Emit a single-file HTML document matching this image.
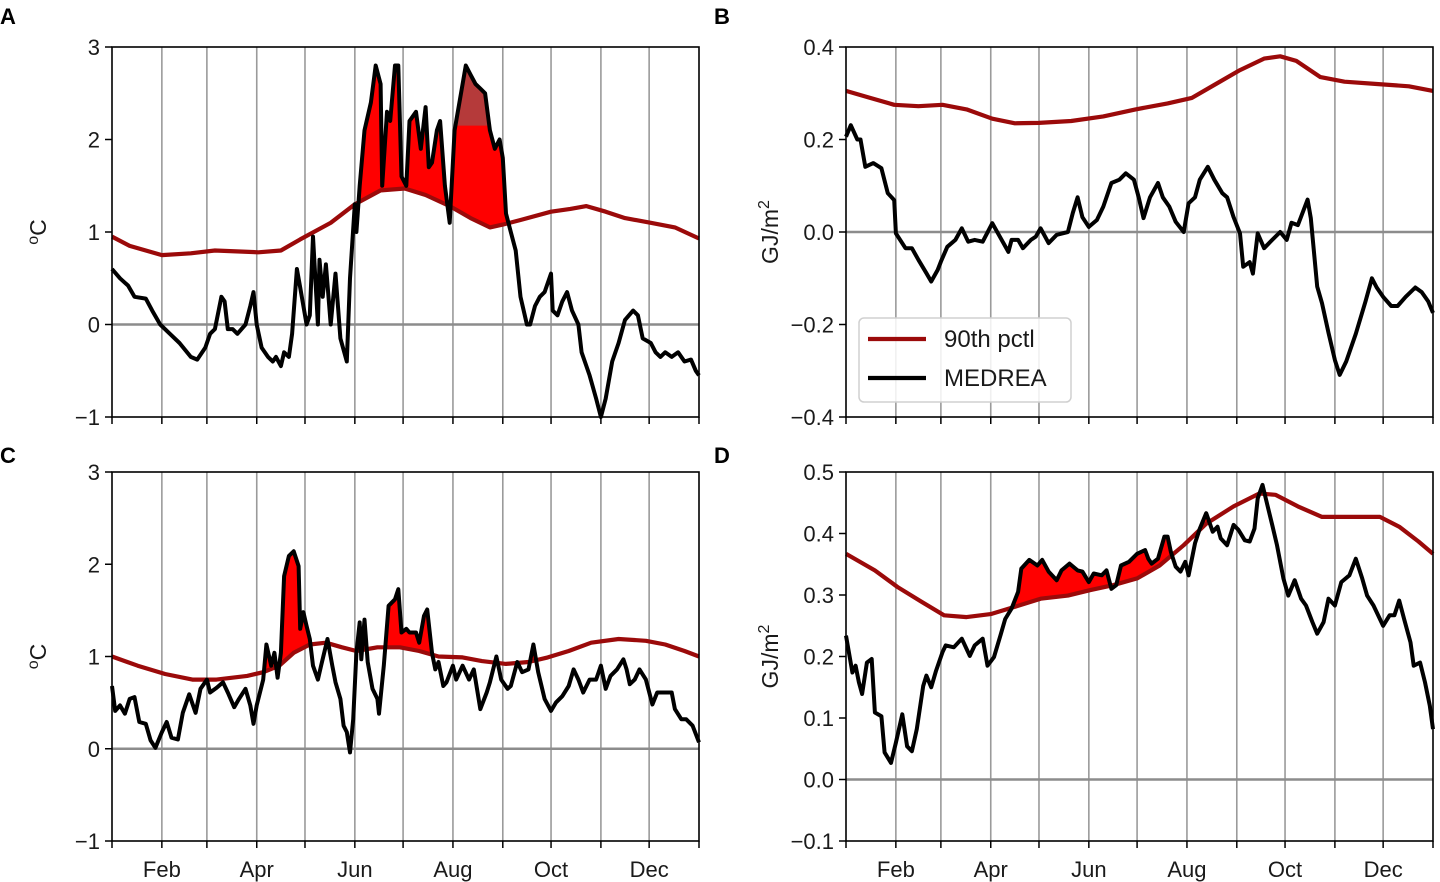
<!DOCTYPE html>
<html><head><meta charset="utf-8">
<style>
html,body{margin:0;padding:0;background:#fff;}
svg{display:block;font-family:"Liberation Sans","DejaVu Sans",sans-serif;}
</style></head>
<body>
<svg id="fig" width="1440" height="882" viewBox="0 0 1440 882"></svg>
<script>
const monthStarts = [0,31,59,90,120,151,181,212,243,273,304,334,365];
const monthLabels = ["Feb","Apr","Jun","Aug","Oct","Dec"];
const monthLabelDays = [31,90,151,212,273,334];

const aDays = [0,5,10,14,21,25,30,36,42,49,53,58,61,64,68,70,72,75,78,83,86,88,90,93,97,100,102,105,107,110,112,115,117,118,121,123,125,128,129,131,133,136,139,142,146,148,151,152,154,157,161,164,167,168,171,173,176,178,180,183,185,189,192,195,197,199,202,204,207,210,213,217,220,223,226,229,232,235,238,241,243,245,248,251,254,258,260,263,266,269,273,274,277,280,283,286,290,292,295,297,301,304,307,311,315,319,324,327,330,335,338,341,344,348,352,356,360,363,365];
const aVals = [0.6,0.5,0.42,0.3,0.28,0.15,0.0,-0.1,-0.2,-0.35,-0.38,-0.25,-0.1,-0.05,0.3,0.25,-0.05,-0.05,-0.1,0.0,0.2,0.35,0.0,-0.25,-0.35,-0.4,-0.35,-0.45,-0.3,-0.35,-0.1,0.6,0.4,0.3,0.0,0.1,0.95,0.0,0.7,0.3,0.65,0.0,0.55,-0.15,-0.4,0.5,1.3,1.0,1.5,2.1,2.4,2.8,2.6,1.5,2.3,2.2,2.8,2.8,1.6,1.5,2.2,2.3,1.9,2.35,1.7,1.75,2.1,2.2,1.5,1.1,2.1,2.5,2.8,2.7,2.6,2.55,2.5,2.1,1.9,2.0,1.8,1.2,1.0,0.8,0.3,0.0,0.0,0.2,0.3,0.35,0.55,0.15,0.1,0.25,0.35,0.15,0.0,-0.3,-0.45,-0.55,-0.8,-1.0,-0.8,-0.4,-0.2,0.05,0.15,0.1,-0.15,-0.2,-0.3,-0.35,-0.3,-0.35,-0.3,-0.4,-0.38,-0.5,-0.55];
const aPctDays = [0,11,31,49,64,91,105,117,136,151,167,182,195,210,223,235,243,254,273,285,295,307,319,335,350,365];
const aPctVals = [0.95,0.85,0.75,0.77,0.8,0.78,0.8,0.92,1.1,1.3,1.45,1.47,1.4,1.28,1.15,1.05,1.08,1.13,1.22,1.25,1.28,1.22,1.15,1.1,1.05,0.93];

const bDays = [0,3,7,9,12,17,22,26,30,31,37,41,45,50,53,57,59,63,68,72,76,80,85,91,95,101,103,107,110,115,118,121,126,131,138,141,144,147,151,156,160,165,170,174,179,182,185,189,194,197,201,205,210,213,217,220,225,229,234,237,241,245,247,251,253,256,260,265,270,274,277,281,287,289,293,296,300,304,307,311,317,323,327,330,334,339,343,348,354,358,362,365];
const bVals = [0.206,0.231,0.2,0.2,0.141,0.149,0.138,0.084,0.069,-0.003,-0.035,-0.035,-0.06,-0.089,-0.107,-0.082,-0.064,-0.032,-0.017,0.008,-0.021,-0.017,-0.021,0.019,-0.006,-0.043,-0.017,-0.017,-0.035,-0.017,-0.01,0.008,-0.024,-0.006,0.0,0.041,0.075,0.032,0.011,0.026,0.055,0.106,0.113,0.127,0.113,0.075,0.03,0.075,0.106,0.075,0.055,0.022,0.0,0.062,0.075,0.113,0.141,0.113,0.084,0.075,0.032,-0.003,-0.075,-0.065,-0.09,-0.003,-0.035,-0.017,0.0,-0.017,0.02,0.015,0.07,0.03,-0.118,-0.154,-0.218,-0.277,-0.309,-0.28,-0.22,-0.15,-0.1,-0.12,-0.14,-0.16,-0.16,-0.14,-0.12,-0.13,-0.15,-0.175];
const bPctDays = [0,15,30,45,60,75,91,105,120,140,160,180,200,215,230,245,260,270,280,295,310,330,350,365];
const bPctVals = [0.305,0.29,0.275,0.272,0.275,0.265,0.245,0.235,0.236,0.24,0.25,0.265,0.278,0.29,0.32,0.35,0.375,0.38,0.37,0.335,0.325,0.32,0.315,0.305];

const cDays = [0,2,5,8,11,14,17,21,24,27,31,34,37,41,44,48,52,55,59,61,65,69,72,76,79,83,86,88,90,94,96,99,101,103,105,107,110,113,116,117,119,121,123,125,128,130,134,137,139,142,144,146,148,150,152,154,155,157,159,162,165,166,169,172,176,178,180,183,185,189,191,194,196,199,201,203,206,208,212,214,218,222,225,229,233,235,239,242,246,248,252,255,259,262,265,269,273,276,280,284,287,290,293,297,301,304,307,310,314,318,320,322,325,328,332,336,339,344,348,350,354,357,361,365];
const cVals = [0.68,0.41,0.47,0.38,0.54,0.56,0.29,0.27,0.09,0.01,0.18,0.29,0.12,0.1,0.39,0.59,0.39,0.65,0.75,0.61,0.66,0.72,0.61,0.45,0.54,0.65,0.47,0.27,0.47,0.75,1.13,0.9,1.04,0.77,1.04,1.87,2.09,2.14,1.98,1.3,1.48,1.33,1.19,0.9,0.75,0.9,1.19,0.9,0.72,0.54,0.25,0.18,-0.04,0.32,1.04,1.37,0.97,1.4,0.94,0.65,0.54,0.38,0.9,1.55,1.62,1.73,1.26,1.3,1.26,1.26,1.15,1.44,1.51,1.04,0.86,0.94,0.68,0.72,0.9,0.75,0.9,0.75,0.86,0.43,0.61,0.72,1.0,0.75,0.65,0.68,0.94,0.83,0.86,1.13,0.83,0.54,0.41,0.5,0.57,0.68,0.86,0.75,0.61,0.75,0.75,0.9,0.65,0.79,0.86,0.97,0.86,0.7,0.75,0.86,0.75,0.48,0.61,0.61,0.61,0.43,0.32,0.32,0.25,0.07];
const cPctDays = [0,16,33,50,65,84,94,104,113,123,133,143,152,165,179,191,203,218,230,245,259,271,284,298,315,332,344,356,365];
const cPctVals = [1.0,0.9,0.81,0.75,0.75,0.79,0.83,0.9,1.04,1.13,1.15,1.1,1.06,1.1,1.1,1.06,1.0,0.99,0.95,0.92,0.94,0.99,1.06,1.15,1.19,1.17,1.13,1.06,1.0];

const dDays = [0,4,6,8,10,13,16,18,22,24,28,31,35,38,41,44,48,50,53,56,60,62,67,72,77,80,85,88,92,96,99,103,107,109,114,119,122,126,131,134,139,144,147,151,154,159,162,165,168,171,176,181,186,188,190,194,198,200,202,205,208,211,213,217,220,224,228,231,233,237,241,244,248,251,254,256,259,262,265,268,272,275,279,283,286,290,293,297,300,304,308,313,317,321,324,328,332,334,338,341,344,347,351,353,357,360,363,365];
const dVals = [0.234,0.174,0.185,0.158,0.139,0.19,0.196,0.109,0.103,0.044,0.027,0.06,0.106,0.054,0.046,0.082,0.152,0.169,0.15,0.177,0.207,0.218,0.215,0.229,0.201,0.218,0.229,0.185,0.199,0.234,0.261,0.278,0.305,0.343,0.357,0.348,0.357,0.338,0.324,0.34,0.351,0.34,0.338,0.321,0.335,0.332,0.34,0.31,0.316,0.348,0.354,0.367,0.373,0.359,0.351,0.359,0.395,0.395,0.37,0.346,0.338,0.354,0.332,0.384,0.408,0.433,0.403,0.411,0.392,0.381,0.414,0.406,0.389,0.387,0.408,0.457,0.479,0.446,0.414,0.381,0.327,0.299,0.324,0.294,0.283,0.256,0.237,0.256,0.294,0.283,0.321,0.332,0.359,0.327,0.299,0.283,0.261,0.25,0.267,0.267,0.291,0.261,0.223,0.185,0.19,0.158,0.12,0.082];
const dPctDays = [0,18,32,47,61,75,90,104,121,138,152,166,181,195,210,224,241,257,267,281,296,313,332,344,356,365];
const dPctVals = [0.367,0.34,0.313,0.289,0.267,0.264,0.269,0.28,0.294,0.299,0.308,0.316,0.327,0.348,0.381,0.416,0.444,0.465,0.463,0.444,0.427,0.427,0.427,0.411,0.387,0.367];

const aTicks = [3,2,1,0,-1];
const aTickLabels = ["3","2","1","0","\u22121"];
const bTicks = [0.4,0.2,0.0,-0.2,-0.4];
const bTickLabels = ["0.4","0.2","0.0","\u22120.2","\u22120.4"];
const dTicks = [0.5,0.4,0.3,0.2,0.1,0.0,-0.1];
const dTickLabels = ["0.5","0.4","0.3","0.2","0.1","0.0","\u22120.1"];

const NS = "http://www.w3.org/2000/svg";
const svg = document.getElementById("fig");
function mk(tag, attrs, parent){
  const e = document.createElementNS(NS, tag);
  for (const k in attrs) e.setAttribute(k, attrs[k]);
  (parent||svg).appendChild(e);
  return e;
}
let clipId = 0;
function panel(o){
  const g = mk("g", {});
  
  
  const xs = d => o.x0 + (o.x1 - o.x0) * d / 365;
  const ys = v => o.y1 - (o.y1 - o.y0) * (v - o.vmin) / (o.vmax - o.vmin);
  for (let i = 1; i < 12; i++){
    const l = mk("line", {x1:xs(monthStarts[i]), x2:xs(monthStarts[i]), y1:o.y0, y2:o.y1, stroke:"#9a9a9a", "stroke-width":1.6}, g);
    
    
  }
  const z = mk("line", {x1:o.x0, x2:o.x1, y1:ys(0), y2:ys(0), stroke:"#8c8c8c", "stroke-width":2.6}, g);
  
  
  const blackPts = o.days.map((d,i)=>xs(d).toFixed(1)+","+ys(o.vals[i]).toFixed(1));
  const pctPts = o.pdays.map((d,i)=>xs(d).toFixed(1)+","+ys(o.pvals[i]).toFixed(1));
  if (o.fill){
    const id1 = "c"+(clipId++), id2 = "c"+(clipId++);
    const defs = mk("defs", {}, g);
    const cp1 = mk("clipPath", {id:id1}, defs);
    mk("polygon", {points: pctPts.join(" ")+" "+xs(365)+","+o.y0+" "+xs(0)+","+o.y0}, cp1);
    const cp2 = mk("clipPath", {id:id2}, defs);
    mk("polygon", {points: blackPts.join(" ")+" "+xs(365)+","+o.y1+" "+xs(0)+","+o.y1}, cp2);
    const gg = mk("g", {"clip-path":"url(#"+id2+")"}, g);
    const f = mk("polygon", {points: blackPts.join(" ")+" "+xs(365)+","+o.y1+" "+xs(0)+","+o.y1, fill:"#ff0000", "clip-path":"url(#"+id1+")"}, gg);
    
    
    if (o.dark){
      const r = mk("rect", {x:xs(o.dark[0]), y:o.y0, width:xs(o.dark[1])-xs(o.dark[0]), height:ys(o.dark[2])-o.y0, fill:"#b53a3a"}, gg);
      
      
    }
  }
  const pl = mk("polyline", {points:pctPts.join(" "), fill:"none", stroke:"#9b0a0a", "stroke-width":4.2, "stroke-linejoin":"round"}, g);
  
  
  const bl = mk("polyline", {points:blackPts.join(" "), fill:"none", stroke:"#000", "stroke-width":4, "stroke-linejoin":"round"}, g);
  
  
  const fr = mk("rect", {x:o.x0, y:o.y0, width:o.x1-o.x0, height:o.y1-o.y0, fill:"none", stroke:"#000", "stroke-width":1.6}, g);
  
  
  o.ticks.forEach((t,i)=>{
    mk("line", {x1:o.x0-7, x2:o.x0, y1:ys(t), y2:ys(t), stroke:"#000", "stroke-width":1.5}, g);
    const tx = mk("text", {x:o.x0-12, y:ys(t)+8, "text-anchor":"end", "font-size":22, fill:"#1a1a1a"}, g);
    tx.textContent = o.tickLabels[i];
    
    
  });
  monthStarts.forEach(d=>{
    mk("line", {x1:xs(d), x2:xs(d), y1:o.y1, y2:o.y1+7, stroke:"#000", "stroke-width":1.5}, g);
  });
  if (o.xlabels){
    monthLabelDays.forEach((d,i)=>{
      const tx = mk("text", {x:xs(d), y:o.y1+36, "text-anchor":"middle", "font-size":22, fill:"#1a1a1a"}, g);
      tx.textContent = monthLabels[i];
      
      
    });
  }
  const cy = (o.y0+o.y1)/2;
  const yt = mk("text", {x:o.ylx, y:cy, "text-anchor":"middle", "font-size":23, fill:"#1a1a1a", transform:"rotate(-90 "+o.ylx+" "+cy+")"}, g);
  
  
  if (o.unit === "C"){
    yt.innerHTML = '<tspan font-size="16" dy="-8">o</tspan><tspan dy="8">C</tspan>';
  } else {
    yt.innerHTML = 'GJ/m<tspan font-size="16" dy="-9">2</tspan>';
  }
  const lt = mk("text", {x:o.lx, y:o.ly, "font-size":22, "font-weight":"bold", fill:"#000"}, g);
  lt.textContent = o.letter;
  
  
  return g;
}

panel({name:"panel-a", x0:112, x1:699, y0:47, y1:417, vmin:-1, vmax:3, days:aDays, vals:aVals, pdays:aPctDays, pvals:aPctVals, fill:true, dark:[212,242,2.15], ticks:aTicks, tickLabels:aTickLabels, xlabels:false, unit:"C", ylx:46, letter:"A", lx:0, ly:24});
panel({name:"panel-b", x0:846, x1:1433, y0:47, y1:417, vmin:-0.4, vmax:0.4, days:bDays, vals:bVals, pdays:bPctDays, pvals:bPctVals, fill:false, ticks:bTicks, tickLabels:bTickLabels, xlabels:false, unit:"G", ylx:778, letter:"B", lx:714, ly:24});
panel({name:"panel-c", x0:112, x1:699, y0:472, y1:841, vmin:-1, vmax:3, days:cDays, vals:cVals, pdays:cPctDays, pvals:cPctVals, fill:true, ticks:aTicks, tickLabels:aTickLabels, xlabels:true, unit:"C", ylx:46, letter:"C", lx:0, ly:463});
panel({name:"panel-d", x0:846, x1:1433, y0:472, y1:841, vmin:-0.1, vmax:0.5, days:dDays, vals:dVals, pdays:dPctDays, pvals:dPctVals, fill:true, ticks:dTicks, tickLabels:dTickLabels, xlabels:true, unit:"G", ylx:778, letter:"D", lx:714, ly:463});

const lg = mk("g", {});


mk("rect", {x:859, y:318, width:212, height:84, rx:5, fill:"#fff", "fill-opacity":0.85, stroke:"#d0d0d0", "stroke-width":1.5}, lg);
const e1 = mk("line", {x1:868, x2:926, y1:339, y2:339, stroke:"#9b0a0a", "stroke-width":4.2}, lg);


const t1 = mk("text", {x:944, y:347, "font-size":24, fill:"#1a1a1a"}, lg);
t1.textContent = "90th pctl";


const e2 = mk("line", {x1:868, x2:926, y1:378, y2:378, stroke:"#000", "stroke-width":4.2}, lg);


const t2 = mk("text", {x:944, y:386, "font-size":24, fill:"#1a1a1a"}, lg);
t2.textContent = "MEDREA";


</script>
</body></html>
